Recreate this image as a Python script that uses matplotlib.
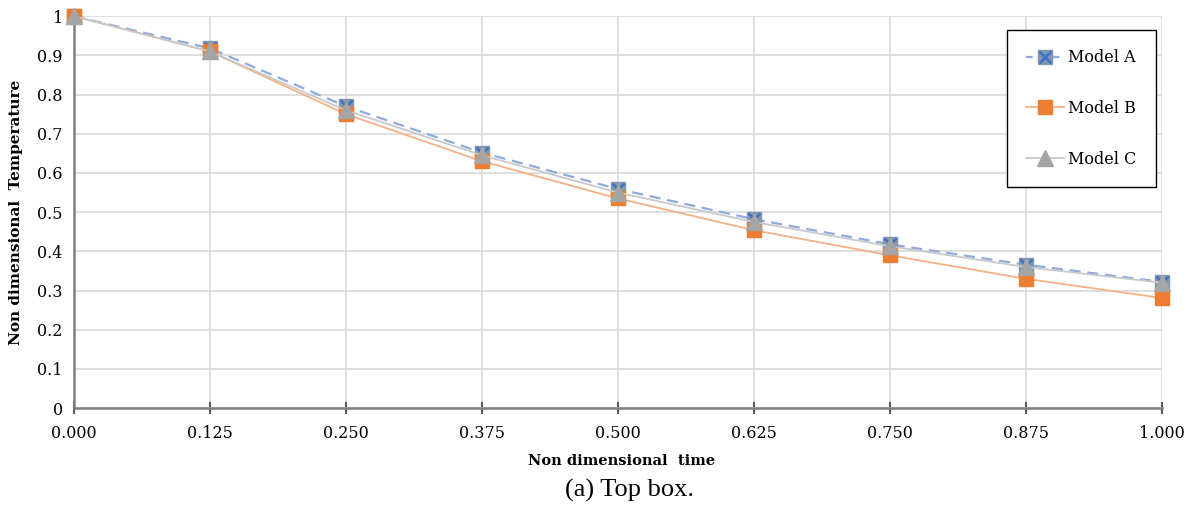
import matplotlib
matplotlib.use("Agg")
import matplotlib.pyplot as plt
from matplotlib.lines import Line2D

# values
time = [0.0, 0.125, 0.25, 0.375, 0.5, 0.625, 0.75, 0.875, 1.0]
model_a = [1.0, 0.918, 0.770, 0.652, 0.559, 0.482, 0.418, 0.366, 0.322]
model_b = [1.0, 0.910, 0.750, 0.630, 0.535, 0.454, 0.390, 0.330, 0.281]
model_c = [1.0, 0.910, 0.760, 0.645, 0.550, 0.475, 0.413, 0.360, 0.320]
x_ticks = time
y_ticks = [0, 0.1, 0.2, 0.3, 0.4, 0.5, 0.6, 0.7, 0.8, 0.9, 1.0]
y_labels = ['0', '0.1', '0.2', '0.3', '0.4', '0.5', '0.6', '0.7', '0.8', '0.9', '1']

plt.rcParams['font.family'] = ['DejaVu Serif']

fig = plt.figure(figsize=(11.93, 5.07), dpi=100)
ax = fig.add_axes([0.062, 0.195, 0.912, 0.773])

ax.plot(time, model_a, color='#8faadc', lw=1.6, ls=(0, (5, 3)), zorder=3, clip_on=False)
ax.plot(time, model_a, ls='none', marker='s', ms=10, mfc='#8497b0', mec='#8497b0', zorder=4, clip_on=False)
ax.plot(time, model_a, ls='none', marker='x', ms=8, mew=2, color='#4472c4', zorder=4, clip_on=False)
ax.plot(time, model_b, color='#f4b183', lw=1.3, marker='s', ms=10, mfc='#ed7d31', mec='#ed7d31',
        zorder=5, clip_on=False)
ax.plot(time, model_c, color='#c9c9c9', lw=1.3, marker='^', ms=11, mfc='#a5a5a5', mec='#a5a5a5',
        zorder=6, clip_on=False)

# legend handles
h_a = (Line2D([], [], color='#8faadc', lw=1.6, ls=(0, (3, 3)), marker='s', ms=10, mfc='#8497b0', mec='#8497b0'),
       Line2D([], [], ls='none', marker='x', ms=8, mew=2, color='#4472c4'))
h_b = Line2D([], [], color='#f4b183', lw=1.3, marker='s', ms=10, mfc='#ed7d31', mec='#ed7d31')
h_c = Line2D([], [], color='#c9c9c9', lw=1.3, marker='^', ms=11, mfc='#a5a5a5', mec='#a5a5a5')
leg = ax.legend([h_a, h_b, h_c], ['Model A', 'Model B', 'Model C'], loc='upper right',
                bbox_to_anchor=(0.9945, 0.964), fancybox=False, edgecolor='black', framealpha=1,
                fontsize=11.5, labelspacing=2.1, handlelength=2.4, handletextpad=0.25,
                borderpad=1.2, borderaxespad=0)
leg.get_frame().set_linewidth(1.0)
leg.set_zorder(10)

ax.set_xlim(0, 1)
ax.set_ylim(0, 1)
ax.set_xticks(x_ticks)
ax.set_xticklabels(['%.3f' % v for v in x_ticks])
ax.set_yticks(y_ticks)
ax.set_yticklabels(y_labels)
ax.grid(True, color='#d9d9d9', lw=1.2)
ax.set_axisbelow(True)
for s in ['top', 'right']:
    ax.spines[s].set_visible(False)
for s in ['left', 'bottom']:
    ax.spines[s].set_color('#7f7f7f')
    ax.spines[s].set_linewidth(1.8)
ax.tick_params(axis='y', length=0, labelsize=11.5, pad=8)
ax.tick_params(axis='x', direction='inout', length=8, width=1.5, color='#595959', labelsize=11.5, pad=8)

ax.set_ylabel('Non dimensional  Temperature', fontweight='bold', fontsize=11, labelpad=10)
fig.text(0.521, 0.083, 'Non dimensional  time', ha='center', fontweight='bold', fontsize=10.5)
fig.text(0.528, 0.02, '(a) Top box.', ha='center', fontsize=19, family='Liberation Serif')

fig.savefig('out.png', dpi=100)
